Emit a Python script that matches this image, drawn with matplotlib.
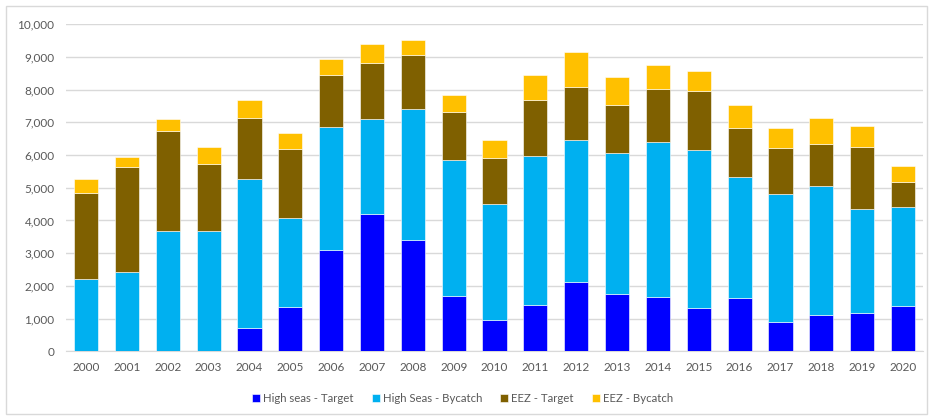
import matplotlib.pyplot as plt
from matplotlib.patches import Rectangle
import numpy as np

# datos
anios = [str(a) for a in range(2000, 2021)]
hs_target = [0, 0, 0, 0, 710, 1350, 3090, 4210, 3400, 1700, 970, 1420, 2110, 1760, 1670, 1310, 1640, 910, 1100, 1180, 1400]
hs_bycatch = [2200, 2440, 3680, 3680, 4550, 2740, 3770, 2880, 4020, 4140, 3530, 4560, 4340, 4300, 4730, 4840, 3680, 3890, 3970, 3170, 3000]
eez_target = [2640, 3210, 3060, 2060, 1870, 2100, 1600, 1720, 1650, 1480, 1400, 1710, 1640, 1480, 1630, 1820, 1520, 1420, 1280, 1910, 790]
eez_bycatch = [420, 300, 360, 520, 560, 480, 470, 580, 450, 510, 560, 760, 1070, 860, 730, 610, 690, 610, 770, 630, 480]

series = [
    ("High seas - Target", hs_target, "#0000FF"),
    ("High Seas - Bycatch", hs_bycatch, "#00B0F0"),
    ("EEZ - Target", eez_target, "#7F6000"),
    ("EEZ - Bycatch", eez_bycatch, "#FFC000"),
]

plt.rcParams['font.family'] = ['Lato', 'DejaVu Sans']
fig = plt.figure(figsize=(9.31, 4.19), dpi=100)
ax = fig.add_axes([0.0705, 0.1616, 0.9214, 0.7804])

x = np.arange(len(anios))
base = np.zeros(len(anios))
for nombre, vals, color in series:
    vals = np.array(vals)
    ax.bar(x, vals, width=0.59, bottom=base, color=color, label=nombre,
           edgecolor="white", linewidth=0.4, zorder=3)
    base += vals

ax.set_xlim(-0.5, len(anios) - 0.5)
ax.set_ylim(0, 10000)
ax.set_yticks(range(0, 10001, 1000))
ax.set_yticklabels([f"{v:,}" for v in range(0, 10001, 1000)])
ax.set_xticks(x)
ax.set_xticklabels(anios)
ax.tick_params(length=0, labelsize=8.5, colors="#595959")
ax.tick_params(axis='x', pad=8)
ax.tick_params(axis='y', pad=8)
ax.grid(axis='y', color="#D9D9D9", linewidth=1, zorder=0)
for s in ["top", "right", "left"]:
    ax.spines[s].set_visible(False)
ax.spines["bottom"].set_color("#D9D9D9")

fig.legend(loc="center", bbox_to_anchor=(0.497, 0.048), ncol=4, frameon=False,
           fontsize=8.2, handlelength=0.7, handleheight=0.7, handletextpad=0.25,
           columnspacing=1.6, labelcolor="#595959")

fig.patches.append(Rectangle((6 / 931, 5 / 419), 921 / 931, 408 / 419, transform=fig.transFigure,
                             fill=False, edgecolor="#D9D9D9", linewidth=1))

plt.savefig("out.png", dpi=100)
plt.close()
